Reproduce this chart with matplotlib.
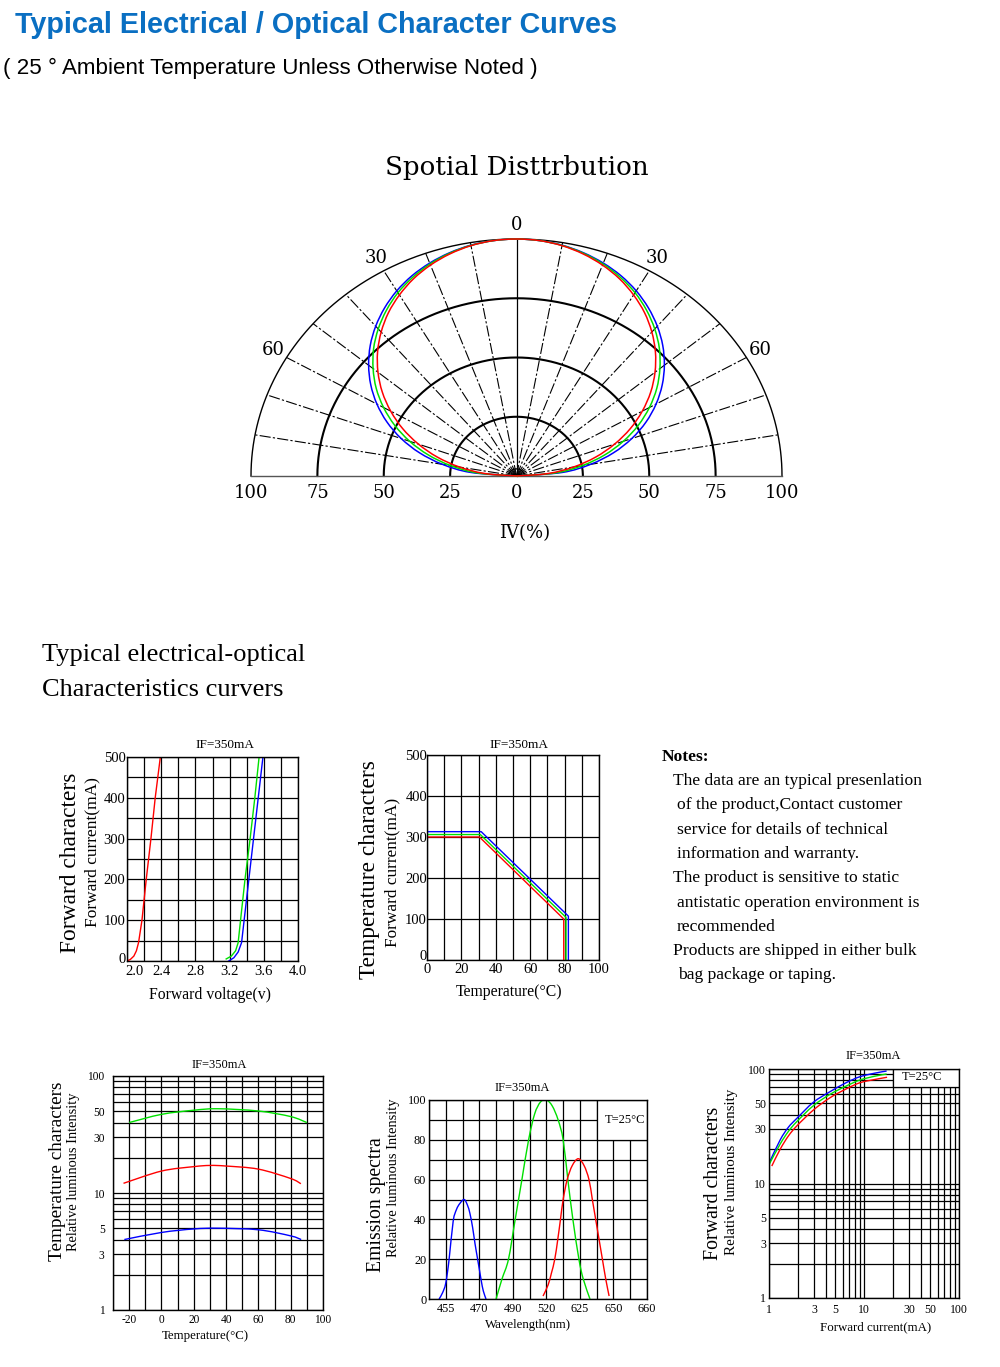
import numpy as np
import matplotlib
matplotlib.use("Agg")
import matplotlib.pyplot as plt
import matplotlib.transforms as mtransforms
from matplotlib.patches import Rectangle, PathPatch
from matplotlib.path import Path
from matplotlib.ticker import MultipleLocator, LogLocator, NullFormatter

plt.rcParams["axes.unicode_minus"] = False

# ---------------- data ----------------
# spatial distribution: relative intensity (%) vs angle (deg), symmetric about 0
spot_angles = [0, 5, 10, 15, 20, 25, 30, 35, 40, 45, 50, 55, 60, 65, 70, 75, 80, 85, 90]
spot_blue = [100, 99.7, 98.9, 97.5, 95.6, 93.2, 90.2, 86.6, 82.5, 77.9, 72.7, 67.0, 60.7, 53.8, 46.2, 37.8, 28.3, 17.3, 0]
spot_green = [100, 99.7, 98.8, 97.3, 95.2, 92.5, 89.3, 85.4, 81.0, 76.1, 70.5, 64.5, 57.8, 50.6, 42.8, 34.4, 25.1, 14.6, 0]
spot_red = [100, 99.7, 98.7, 97.0, 94.7, 91.8, 88.2, 84.1, 79.3, 74.0, 68.1, 61.7, 54.7, 47.3, 39.3, 30.9, 21.8, 12.0, 0]
spot_grid_r = [25, 50, 75]
spot_spokes = [-80, -70, -60, -50, -40, -30, -20, -10, 10, 20, 30, 40, 50, 60, 70, 80]
spot_rticks = [-100, -75, -50, -25, 0, 25, 50, 75, 100]
spot_alabels = [-60, -30, 0, 30, 60]

# forward voltage vs forward current
iv_red_v = [2.0, 2.04, 2.08, 2.11, 2.135, 2.175, 2.225, 2.28, 2.33, 2.39]
iv_red_i = [0, 4, 12, 25, 45, 100, 200, 300, 400, 500]
iv_green_v = [3.16, 3.22, 3.27, 3.30, 3.328, 3.38, 3.44, 3.495, 3.545]
iv_green_i = [5, 12, 25, 45, 100, 200, 300, 400, 500]
iv_blue_v = [3.19, 3.25, 3.30, 3.34, 3.37, 3.425, 3.48, 3.535, 3.59]
iv_blue_i = [0, 8, 22, 45, 100, 200, 300, 400, 500]
iv_xticks = [2.0, 2.4, 2.8, 3.2, 3.6, 4.0]

# derating: temperature vs max forward current
td_red_t = [0, 30.5, 79.5, 79.5]
td_red_i = [300, 300, 100, 0]
td_green_t = [0, 31, 80.8, 80.8]
td_green_i = [306, 306, 104, 0]
td_blue_t = [0, 31.5, 82.2, 82.2]
td_blue_i = [313, 313, 107, 0]

# temperature vs relative luminous intensity
tl_green_t = [-20, 0, 20, 35, 60, 80, 90]
tl_green_v = [40, 47, 51, 52.5, 50.2, 45, 40]
tl_red_t = [-23.5, 0, 20, 30, 40, 60, 80, 86.3]
tl_red_v = [12.1, 15.4, 16.8, 17.2, 17.0, 16.0, 13.3, 12.0]
tl_blue_t = [-23, 0, 20, 35, 60, 80, 86.5]
tl_blue_v = [4.0, 4.6, 4.93, 5.0, 4.85, 4.3, 4.0]
log_ticks = [1, 3, 5, 10, 30, 50, 100]

# emission spectra (x in grid-column units of the datasheet axis)
em_labels = ["455", "470", "490", "520", "625", "650", "660"]
em_label_pos = [1, 3, 5, 7, 9, 11, 13]
em_blue_x = [0.6, 0.8, 1.0, 1.2, 1.44, 1.64, 1.84, 2.1, 2.3, 2.44, 2.6, 2.74, 2.9, 3.0, 3.12, 3.24, 3.4]
em_blue_y = [0, 3, 8, 20, 39, 45, 48, 50, 47, 43, 36, 28, 20, 15, 9, 4, 0]
em_green_x = [4.0, 4.35, 4.74, 5.14, 5.54, 5.94, 6.3, 6.65, 7.0, 7.35, 7.7, 8.0, 8.28, 8.58, 8.94, 9.2, 9.6]
em_green_y = [0, 10, 20, 40, 60, 80, 93, 99, 100, 97, 90, 80, 60, 40, 20, 10, 0]
em_red_x = [6.8, 7.1, 7.3, 7.5, 7.68, 7.84, 8.0, 8.24, 8.54, 8.9, 9.25, 9.54, 9.74, 9.94, 10.14, 10.34, 10.54, 10.74]
em_red_y = [1.5, 7, 13, 20, 30, 40, 50, 60, 67, 70.5, 67, 60, 50, 40, 30, 20, 10, 1.5]

# forward current vs relative luminous intensity
fl_blue_i = [1.0, 1.31, 1.6, 1.96, 2.93, 4.39, 6.5, 9.08, 13, 17.3]
fl_blue_v = [15.0, 24, 31, 37, 51.2, 63.4, 76, 85.7, 92, 96]
fl_green_i = [1.0, 1.31, 1.6, 1.96, 2.93, 4.39, 6.5, 9.08, 13, 17.3]
fl_green_v = [14.6, 22.1, 28.5, 34.7, 47.8, 60.1, 71, 80.2, 86.5, 90.4]
fl_red_i = [1.07, 1.31, 1.6, 1.96, 2.93, 4.39, 6.5, 9.08, 13, 17.5]
fl_red_v = [14.2, 19.9, 26, 31.8, 43.8, 56.1, 67, 75.9, 81, 84.7]

notes = [
    ("The data are an typical presenlation", 673, 781),
    ("of the product,Contact customer", 677, 805),
    ("service for details of technical", 677, 830),
    ("information and warranty.", 677, 854),
    ("The product is sensitive to static", 673, 878),
    ("antistatic operation environment is", 677, 903),
    ("recommended", 677, 927),
    ("Products are shipped in either bulk", 673, 951),
    ("bag package or taping.", 678, 975),
]

RED, GREEN, BLUE = "#ff0000", "#00e000", "#0000ff"
SERIF = "Liberation Serif"

W, H = 1000, 1367
fig = plt.figure(figsize=(W / 100, H / 100), dpi=100)


def box(l, t, r, b):
    # pixel box -> figure fraction
    return [l / W, 1 - b / H, (r - l) / W, (b - t) / H]


def put(xp, yp, s, **kw):
    kw.setdefault("ha", "center")
    kw.setdefault("va", "center")
    fig.text(xp / W, 1 - yp / H, s, **kw)


def smooth_line(ax, xs, ys, color, lw=1.0, clip=True, logx=False, logy=False):
    # draw a smooth curve through the read points (Catmull-Rom as Bezier segments),
    # built in the axis' own (possibly log) space so it looks smooth on screen
    x = np.log10(xs) if logx else np.asarray(xs, float)
    y = np.log10(ys) if logy else np.asarray(ys, float)
    p = np.column_stack([x, y])
    ext = np.vstack([p[0], p, p[-1]])
    verts = [p[0]]
    codes = [Path.MOVETO]
    for i in range(1, len(p)):
        p0, p1, p2, p3 = ext[i - 1], ext[i], ext[i + 1], ext[i + 2]
        verts += [p1 + (p2 - p0) / 6, p2 - (p3 - p1) / 6, p2]
        codes += [Path.CURVE4] * 3
    verts = np.array(verts)
    if logx:
        verts[:, 0] = 10 ** verts[:, 0]
    if logy:
        verts[:, 1] = 10 ** verts[:, 1]
    patch = PathPatch(Path(verts, codes), fill=False, edgecolor=color, lw=lw, zorder=2)
    patch.set_clip_on(clip)
    ax.add_patch(patch)


def nudge(label, dx_px, dy_px):
    off = mtransforms.ScaledTranslation(dx_px / 100, dy_px / 100, fig.dpi_scale_trans)
    label.set_transform(label.get_transform() + off)


def grid_style(ax, fs, xpad, ypad):
    for sp in ax.spines.values():
        sp.set_color("black")
        sp.set_linewidth(1.0)
    ax.tick_params(which="both", length=0, labelsize=fs)
    ax.tick_params(axis="x", pad=xpad)
    ax.tick_params(axis="y", pad=ypad)
    ax.grid(True, which="both", color="black", lw=0.9)
    ax.set_axisbelow(True)
    for lab in ax.get_xticklabels() + ax.get_yticklabels():
        lab.set_family(SERIF)


# ---------------- headers ----------------
put(15, 25, "Typical Electrical / Optical Character Curves", ha="left",
    family="Liberation Sans", weight="bold", size=20.7, color="#0a6fc2")
put(3, 68, "( 25 \u00b0 Ambient Temperature Unless Otherwise Noted )", ha="left",
    family="Liberation Sans", size=16.1, color="black")

# ---------------- spatial distribution ----------------
ax0 = fig.add_axes(box(251, 239, 782, 476))
ax0.set_xlim(-100, 100)
ax0.set_ylim(0, 100)
for sp in ax0.spines.values():
    sp.set_visible(False)
ax0.set_yticks([])
ax0.set_xticks(spot_rticks, [str(abs(v)) for v in spot_rticks])
ax0.tick_params(axis="x", length=0, pad=6, labelsize=13)
for lab in ax0.get_xticklabels():
    lab.set_family("DejaVu Serif")

arc = np.radians(np.linspace(-90, 90, 361))
for r in spot_grid_r:
    ax0.plot(r * np.sin(arc), r * np.cos(arc), color="black", lw=1.5, clip_on=False)
ax0.plot(100 * np.sin(arc), 100 * np.cos(arc), color="black", lw=1.0, clip_on=False)
ax0.plot(3 * np.sin(arc), 3 * np.cos(arc), color="black", lw=1.0, clip_on=False)
for a in spot_spokes:
    t = np.radians(a)
    ax0.plot([0, 100 * np.sin(t)], [0, 100 * np.cos(t)], color="black", lw=0.8,
             dashes=(10, 2, 2, 2), clip_on=False)
ax0.plot([0, 0], [0, 100], color="black", lw=0.9, clip_on=False)
ax0.plot([-100, 100], [0, 0], color="#555555", lw=1.0, clip_on=False)

ang = np.radians(np.array(spot_angles))
for vals, col in [(spot_blue, BLUE), (spot_green, GREEN), (spot_red, RED)]:
    r = np.array(vals)
    th = np.concatenate([-ang[::-1], ang[1:]])
    rr = np.concatenate([r[::-1], r[1:]])
    smooth_line(ax0, rr * np.sin(th), rr * np.cos(th), col, lw=1.1, clip=False)

for a in spot_alabels:
    t = np.radians(a)
    ax0.text(106 * np.sin(t), 106 * np.cos(t), str(abs(a)), ha="center", va="center",
             family="DejaVu Serif", size=13)

put(517, 167, "Spotial Disttrbution", family="DejaVu Serif", size=18.8)
put(525, 533, "IV(%)", family="DejaVu Serif", size=13)

# ---------------- section heading ----------------
put(42, 655, "Typical electrical-optical", ha="left", family=SERIF, size=19)
put(42, 690, "Characteristics curvers", ha="left", family=SERIF, size=19)

# ---------------- forward characteristics (IV) ----------------
ax1 = fig.add_axes(box(127, 757, 298, 961))
ax1.set_xlim(2.0, 4.0)
ax1.set_ylim(0, 500)
ax1.set_xticks(iv_xticks, ["%.1f" % v for v in iv_xticks])
ax1.xaxis.set_minor_locator(MultipleLocator(0.2))
ax1.set_yticks([0, 100, 200, 300, 400, 500])
ax1.yaxis.set_minor_locator(MultipleLocator(50))
grid_style(ax1, 10.5, 3, 1)
ax1.plot(iv_red_v, iv_red_i, color=RED, lw=1.0)
ax1.plot(iv_green_v, iv_green_i, color=GREEN, lw=1.0)
ax1.plot(iv_blue_v, iv_blue_i, color=BLUE, lw=1.0)
# first voltage label sits right of the axis corner in the original
nudge(ax1.get_xticklabels()[0], 8, 0)
nudge(ax1.get_yticklabels()[0], 0, 3)
put(225, 745, "IF=350mA", family=SERIF, size=9.5)
put(70, 863, "Forward characters", family=SERIF, size=16.8, rotation=90)
put(92, 852, "Forward current(mA)", family=SERIF, size=12.5, rotation=90)
put(210, 995, "Forward voltage(v)", family=SERIF, size=11.3)

# ---------------- temperature derating ----------------
ax2 = fig.add_axes(box(427, 755, 599, 960))
ax2.set_xlim(0, 100)
ax2.set_ylim(0, 500)
ax2.set_xticks([0, 20, 40, 60, 80, 100])
ax2.xaxis.set_minor_locator(MultipleLocator(10))
ax2.set_yticks([0, 100, 200, 300, 400, 500])
grid_style(ax2, 10.5, 2, 0)
ax2.plot(td_red_t, td_red_i, color=RED, lw=1.0)
ax2.plot(td_green_t, td_green_i, color=GREEN, lw=1.0)
ax2.plot(td_blue_t, td_blue_i, color=BLUE, lw=1.0)
nudge(ax2.get_yticklabels()[0], 0, 5)
put(519, 745, "IF=350mA", family=SERIF, size=9.5)
put(370, 870, "Temperature characters", family=SERIF, size=16.8, rotation=90)
put(392, 872, "Forward current(mA)", family=SERIF, size=12.4, rotation=90)
put(509, 992, "Temperature(\u00b0C)", family=SERIF, size=11.3)

# ---------------- notes ----------------
put(662, 757, "Notes:", ha="left", family=SERIF, weight="bold", size=12.6)
for txt, xp, yp in notes:
    put(xp, yp, txt, ha="left", family=SERIF, size=12.6)

# ---------------- temperature vs luminous intensity ----------------
ax3 = fig.add_axes(box(113, 1076, 323, 1310))
ax3.set_yscale("log")
ax3.set_xlim(-30, 100)
ax3.set_ylim(1, 100)
ax3.set_xticks([-20, 0, 20, 40, 60, 80, 100])
ax3.xaxis.set_minor_locator(MultipleLocator(10))
ax3.set_yticks(log_ticks, [str(v) for v in log_ticks])
ax3.yaxis.set_minor_locator(LogLocator(base=10, subs=np.arange(2, 10)))
ax3.yaxis.set_minor_formatter(NullFormatter())
grid_style(ax3, 8.3, 3, 6)
smooth_line(ax3, tl_green_t, tl_green_v, GREEN, logy=True)
smooth_line(ax3, tl_red_t, tl_red_v, RED, logy=True)
smooth_line(ax3, tl_blue_t, tl_blue_v, BLUE, logy=True)
put(219, 1065, "IF=350mA", family=SERIF, size=9)
put(57, 1171, "Temperature characters", family=SERIF, size=13.9, rotation=90)
put(74, 1172, "Relative luminous Intensity", family=SERIF, size=10.4, rotation=90)
put(205, 1336, "Temperature(\u00b0C)", family=SERIF, size=9.3)

# ---------------- emission spectra ----------------
ax4 = fig.add_axes(box(429, 1100, 647, 1299))
ax4.set_xlim(0, 13)
ax4.set_ylim(0, 100)
ax4.set_xticks(em_label_pos, em_labels)
ax4.xaxis.set_minor_locator(MultipleLocator(1))
ax4.set_yticks([0, 20, 40, 60, 80, 100])
ax4.yaxis.set_minor_locator(MultipleLocator(10))
grid_style(ax4, 8.8, 3, 2)
ax4.add_patch(Rectangle((10, 80), 3, 20, facecolor="white", edgecolor="black", lw=0.9, zorder=1))
smooth_line(ax4, em_blue_x, em_blue_y, BLUE)
smooth_line(ax4, em_green_x, em_green_y, GREEN)
smooth_line(ax4, em_red_x, em_red_y, RED)
put(522, 1088, "IF=350mA", family=SERIF, size=9)
put(625, 1120, "T=25\u00b0C", family=SERIF, size=9)
put(376, 1205, "Emission spectra", family=SERIF, size=14.2, rotation=90)
put(393, 1178, "Relative luminous Intensity", family=SERIF, size=10.4, rotation=90)
put(528, 1325, "Wavelength(nm)", family=SERIF, size=9.3)

# ---------------- forward current vs luminous intensity ----------------
ax5 = fig.add_axes(box(769, 1069, 959, 1298))
ax5.set_xscale("log")
ax5.set_yscale("log")
ax5.set_xlim(1, 100)
ax5.set_ylim(1, 100)
ax5.set_xticks(log_ticks, [str(v) for v in log_ticks])
ax5.set_yticks(log_ticks, [str(v) for v in log_ticks])
for axis in (ax5.xaxis, ax5.yaxis):
    axis.set_minor_locator(LogLocator(base=10, subs=np.arange(2, 10)))
    axis.set_minor_formatter(NullFormatter())
grid_style(ax5, 8.5, 4, 2)
ax5.add_patch(Rectangle((20, 70), 80, 30, facecolor="white", edgecolor="black", lw=0.9, zorder=1))
smooth_line(ax5, fl_blue_i, fl_blue_v, BLUE, logx=True, logy=True)
smooth_line(ax5, fl_green_i, fl_green_v, GREEN, logx=True, logy=True)
smooth_line(ax5, fl_red_i, fl_red_v, RED, logx=True, logy=True)
put(873, 1056, "IF=350mA", family=SERIF, size=9)
put(922, 1077, "T=25\u00b0C", family=SERIF, size=9)
put(713, 1183, "Forward characters", family=SERIF, size=14.3, rotation=90)
put(732, 1172, "Relative luminous Intensity", family=SERIF, size=10.8, rotation=90)
put(876, 1327, "Forward current(mA)", family=SERIF, size=9.3)

fig.savefig("out.png", dpi=100)
